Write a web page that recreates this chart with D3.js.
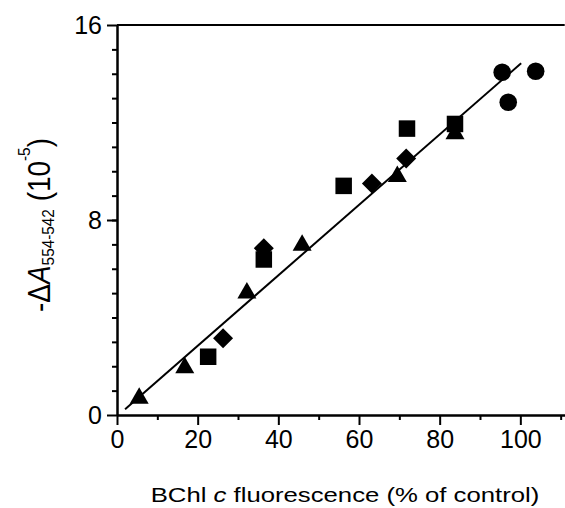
<!DOCTYPE html>
<html>
<head>
<meta charset="utf-8">
<script src="https://cdn.jsdelivr.net/npm/d3@7"></script>
<style>
  body { margin: 0; background: #fff; }
  svg { display: block; font-family: "Liberation Sans", Arial, sans-serif; }
</style>
</head>
<body>
<div class="chart"></div>
<script>
// points: [fluorescence %, -dA x1e5]
const triangles = [[5.5, 0.8], [16.8, 2.05], [32.2, 5.12], [45.9, 7.08], [69.5, 9.9], [83.8, 11.65]];
const squares = [[22.6, 2.39], [36.4, 6.38], [56.2, 9.4], [71.9, 11.75], [83.8, 11.94]];
const diamonds = [[26.3, 3.15], [36.4, 6.84], [63.2, 9.5], [71.7, 10.52]];
const circles = [[95.5, 14.06], [97.0, 12.83], [103.8, 14.1]];

// regression line
const fitRange = [2, 100.2];
const fitSlope = 0.1445;
const fitIntercept = -0.05;

const xMajor = [0, 20, 40, 60, 80, 100];
const xMinor = [10, 30, 50, 70, 90, 110];
const yMajor = [0, 8, 16];
const yMinor = d3.range(1, 16);

const outerWidth = 565, outerHeight = 508;

const svg = d3.select(".chart").append("svg")
  .attr("width", outerWidth)
  .attr("height", outerHeight);

const x = d3.scaleLinear().domain([0, 111]).range([117, 564.7]);
const y = d3.scaleLinear().domain([0, 16]).range([415, 25]);

// custom symbols centred on their bounding box
const triangleSym = {
  draw(ctx, size) {
    const w = Math.sqrt(size), h = w * 0.866;
    ctx.moveTo(0, -h / 2);
    ctx.lineTo(w / 2, h / 2);
    ctx.lineTo(-w / 2, h / 2);
    ctx.closePath();
  }
};
const diamondSym = {
  draw(ctx, size) {
    const r = Math.sqrt(size) / 2;
    ctx.moveTo(0, -r);
    ctx.lineTo(r, 0);
    ctx.lineTo(0, r);
    ctx.lineTo(-r, 0);
    ctx.closePath();
  }
};

// axes
const axisStyle = sel => {
  sel.select(".domain").attr("stroke-width", 2);
  sel.selectAll(".tick line").attr("stroke-width", 2);
  sel.selectAll("text").attr("font-size", 25).attr("fill", "#000")
    .attr("font-family", "Liberation Sans, Arial, sans-serif");
};

svg.append("g")
  .attr("transform", `translate(0,${y(0)})`)
  .call(d3.axisBottom(x).tickValues(xMinor).tickSize(5).tickFormat("").tickSizeOuter(0))
  .call(axisStyle);
svg.append("g")
  .attr("transform", `translate(0,${y(0)})`)
  .call(d3.axisBottom(x).tickValues(xMajor).tickSize(10).tickPadding(5).tickSizeOuter(0))
  .call(axisStyle);

svg.append("g")
  .attr("transform", `translate(${x(0)},0)`)
  .call(d3.axisLeft(y).tickValues(yMinor).tickSize(5).tickFormat("").tickSizeOuter(0))
  .call(axisStyle);
svg.append("g")
  .attr("transform", `translate(${x(0)},0)`)
  .call(d3.axisLeft(y).tickValues(yMajor).tickSize(10).tickPadding(5).tickSizeOuter(0))
  .call(axisStyle);

// top frame line
svg.append("line")
  .attr("x1", x(0)).attr("x2", x.range()[1])
  .attr("y1", y(16)).attr("y2", y(16))
  .attr("stroke", "#000").attr("stroke-width", 2);

// fit line
svg.append("line")
  .attr("x1", x(fitRange[0])).attr("y1", y(fitSlope * fitRange[0] + fitIntercept))
  .attr("x2", x(fitRange[1])).attr("y2", y(fitSlope * fitRange[1] + fitIntercept))
  .attr("stroke", "#000").attr("stroke-width", 2);

// markers
const series = [
  {data: triangles, type: triangleSym, size: 19 * 19},
  {data: diamonds, type: diamondSym, size: 20 * 20},
  {data: squares, type: d3.symbolSquare, size: 16.5 * 16.5},
  {data: circles, type: d3.symbolCircle, size: Math.PI * 8.8 * 8.8}
];

series.forEach(s => {
  svg.append("g").selectAll("path")
    .data(s.data)
    .enter()
    .append("path")
    .attr("transform", d => `translate(${x(d[0])},${y(d[1])})`)
    .attr("d", d3.symbol().type(s.type).size(s.size))
    .attr("fill", "#000");
});

// axis titles (original lettering is a bit wider than tall)
const xt = svg.append("text")
  .attr("transform", "translate(345,502) scale(1.225,1)")
  .attr("text-anchor", "middle")
  .attr("font-size", 21);
xt.append("tspan").text("BChl ");
xt.append("tspan").attr("font-style", "italic").text("c");
xt.append("tspan").text(" fluorescence (% of control)");

const yt = svg.append("text")
  .attr("text-anchor", "middle")
  .attr("font-size", 26);
yt.append("tspan").text("-\u0394");
yt.append("tspan").attr("font-style", "italic").text("A");
yt.append("tspan").attr("font-size", 14.3).attr("dy", 3).text("554-542");
yt.append("tspan").attr("dy", -3).text(" (10");
yt.append("tspan").attr("font-size", 14.3).attr("dy", -17).text("-5");
yt.append("tspan").attr("dy", 17).text(")");
// stretch along the axis to span the same length as the original label
const ytLen = yt.node().getComputedTextLength();
yt.attr("transform", `translate(50,225) rotate(-90) scale(${174 / ytLen},1.2)`);
</script>
</body>
</html>
